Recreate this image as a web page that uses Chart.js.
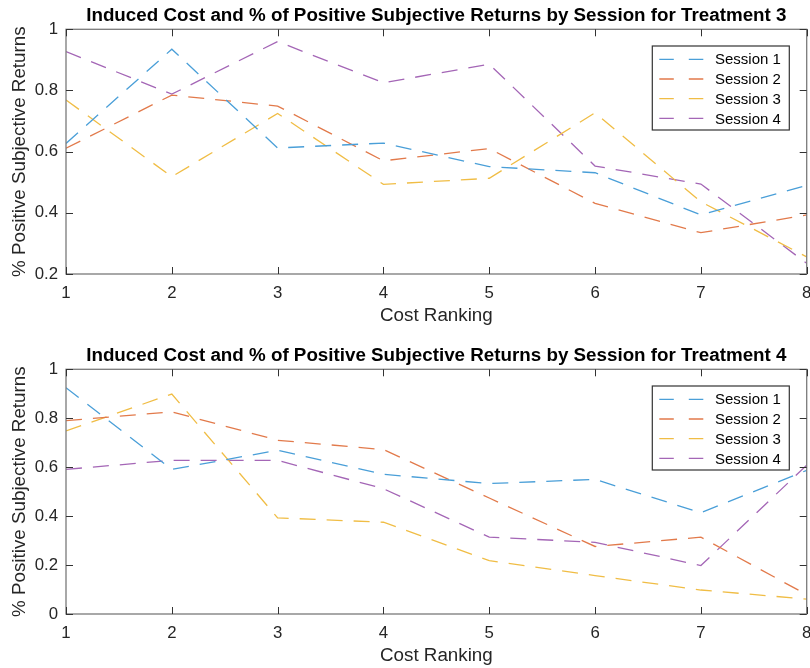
<!DOCTYPE html>
<html>
<head>
<meta charset="utf-8">
<script src="https://cdn.jsdelivr.net/npm/chart.js@4"></script>
<style>
  html, body { margin: 0; padding: 0; background: #fff; overflow: hidden; }
  body { width: 810px; height: 668px; position: relative; }
  .panel { position: absolute; left: 0; width: 810px; height: 334px; }
  #p3 { top: 0; }
  #p4 { top: 340px; }
</style>
</head>
<body>
<div class="panel" id="p3"><canvas id="c3" width="810" height="334"></canvas></div>
<div class="panel" id="p4"><canvas id="c4" width="810" height="334"></canvas></div>
<script>
// Cost rankings shared by both treatments
const costRanking = [1, 2, 3, 4, 5, 6, 7, 8];
const sessionNames = ['Session 1', 'Session 2', 'Session 3', 'Session 4'];
const sessionColors = ['#4a9fd8', '#e27a4b', '#f0bd45', '#a466b6'];

// Treatment 3: share of positive subjective returns per session
const t3Session1 = [0.627, 0.935, 0.612, 0.628, 0.551, 0.531, 0.393, 0.490];
const t3Session2 = [0.611, 0.785, 0.749, 0.570, 0.610, 0.431, 0.335, 0.393];
const t3Session3 = [0.769, 0.518, 0.725, 0.493, 0.513, 0.727, 0.436, 0.256];
const t3Session4 = [0.927, 0.788, 0.960, 0.825, 0.886, 0.553, 0.494, 0.235];

// Treatment 4: share of positive subjective returns per session
const t4Session1 = [0.925, 0.591, 0.669, 0.571, 0.533, 0.550, 0.414, 0.587];
const t4Session2 = [0.790, 0.826, 0.710, 0.672, 0.474, 0.276, 0.314, 0.079];
const t4Session3 = [0.748, 0.899, 0.393, 0.375, 0.218, 0.157, 0.098, 0.061];
const t4Session4 = [0.591, 0.628, 0.628, 0.512, 0.314, 0.293, 0.198, 0.608];

// Axis tick values
const yTicksT3 = [0.2, 0.4, 0.6, 0.8, 1];
const yTicksT4 = [0, 0.2, 0.4, 0.6, 0.8, 1];

const FONT = "'Liberation Sans', Arial, Helvetica, sans-serif";
const TEXT = '#262626';

// Boxed axes with inward ticks on all four sides, a centred bold title,
// and a boxed legend in the upper-right corner of the plot area.
const matlabAxes = {
  id: 'matlabAxes',
  afterDraw(chart, args, opts) {
    const ctx = chart.ctx;
    const a = chart.chartArea;
    const xs = chart.scales.x, ys = chart.scales.y;
    ctx.save();
    // frame
    ctx.strokeStyle = '#7a7a7a';
    ctx.lineWidth = 1.3;
    ctx.strokeRect(a.left, a.top, a.right - a.left, a.bottom - a.top);
    // inward ticks
    ctx.strokeStyle = '#333';
    ctx.lineWidth = 1;
    const tl = 7;
    ctx.beginPath();
    xs.ticks.forEach(t => {
      const px = Math.round(xs.getPixelForValue(t.value)) + 0.5;
      ctx.moveTo(px, a.bottom); ctx.lineTo(px, a.bottom - tl);
      ctx.moveTo(px, a.top); ctx.lineTo(px, a.top + tl);
    });
    ys.ticks.forEach(t => {
      const py = Math.round(ys.getPixelForValue(t.value)) + 0.5;
      ctx.moveTo(a.left, py); ctx.lineTo(a.left + tl, py);
      ctx.moveTo(a.right, py); ctx.lineTo(a.right - tl, py);
    });
    ctx.stroke();

    // title
    ctx.fillStyle = '#000';
    ctx.font = 'bold 18.8px ' + FONT;
    ctx.textAlign = 'center';
    ctx.textBaseline = 'middle';
    ctx.fillText(opts.title, (a.left + a.right) / 2, a.top - 13);

    // legend
    const bw = 137, bh = 84;
    const bx = a.right - 17.4 - bw;
    const by = a.top + 16.7;
    ctx.fillStyle = '#fff';
    ctx.fillRect(bx, by, bw, bh);
    ctx.strokeStyle = '#333';
    ctx.lineWidth = 1.2;
    ctx.strokeRect(bx, by, bw, bh);
    ctx.font = '15px ' + FONT;
    ctx.textAlign = 'left';
    ctx.textBaseline = 'middle';
    chart.data.datasets.forEach((ds, i) => {
      const ry = by + 13.3 + i * 19.7;
      ctx.strokeStyle = ds.borderColor;
      ctx.lineWidth = 1.3;
      ctx.setLineDash([14.5, 15]);
      ctx.beginPath();
      ctx.moveTo(bx + 7, ry);
      ctx.lineTo(bx + 51, ry);
      ctx.stroke();
      ctx.setLineDash([]);
      ctx.fillStyle = '#000';
      ctx.fillText(ds.label, bx + 62.7, ry + 1);
    });
    ctx.restore();
  }
};

function makeChart(canvasId, title, series, yTicks) {
  const datasets = series.map((vals, i) => ({
    label: sessionNames[i],
    data: costRanking.map((c, k) => ({ x: c, y: vals[k] })),
    borderColor: sessionColors[i],
    backgroundColor: sessionColors[i],
    borderWidth: 1.3,
    borderDash: [16, 11],
    pointRadius: 0,
    tension: 0,
    fill: false
  }));
  return new Chart(document.getElementById(canvasId), {
    type: 'line',
    data: { datasets },
    plugins: [matlabAxes],
    options: {
      responsive: false,
      animation: false,
      devicePixelRatio: 1,
      layout: { padding: { top: 29.3, right: 3.3, left: 0, bottom: 0 } },
      plugins: {
        legend: { display: false },
        tooltip: { enabled: false },
        title: { display: false },
        matlabAxes: { title }
      },
      scales: {
        x: {
          type: 'linear',
          min: costRanking[0],
          max: costRanking[costRanking.length - 1],
          afterBuildTicks: s => { s.ticks = costRanking.map(v => ({ value: v })); },
          afterFit: s => { s.height = 60; s.paddingLeft = 0; s.paddingRight = 0; },
          grid: { display: false, drawTicks: false },
          border: { display: false },
          ticks: { color: TEXT, font: { family: FONT, size: 16.8 }, padding: 9, maxRotation: 0 },
          title: {
            display: true, text: 'Cost Ranking', color: TEXT,
            font: { family: FONT, size: 18.8 }, padding: { top: 0, bottom: 7 }
          }
        },
        y: {
          type: 'linear',
          min: yTicks[0],
          max: yTicks[yTicks.length - 1],
          afterBuildTicks: s => { s.ticks = yTicks.map(v => ({ value: v })); },
          afterFit: s => { s.width = 66; s.paddingTop = 0; s.paddingBottom = 0; },
          grid: { display: false, drawTicks: false },
          border: { display: false },
          ticks: {
            color: TEXT, font: { family: FONT, size: 16.8 }, padding: 8,
            callback: v => String(Math.round(v * 10) / 10)
          },
          title: {
            display: true, text: '% Positive Subjective Returns', color: TEXT,
            font: { family: FONT, size: 18.8 }, padding: { top: 9, bottom: 0 }
          }
        }
      }
    }
  });
}

makeChart('c3', 'Induced Cost and % of Positive Subjective Returns by Session for Treatment 3',
  [t3Session1, t3Session2, t3Session3, t3Session4], yTicksT3);
makeChart('c4', 'Induced Cost and % of Positive Subjective Returns by Session for Treatment 4',
  [t4Session1, t4Session2, t4Session3, t4Session4], yTicksT4);
</script>
</body>
</html>
